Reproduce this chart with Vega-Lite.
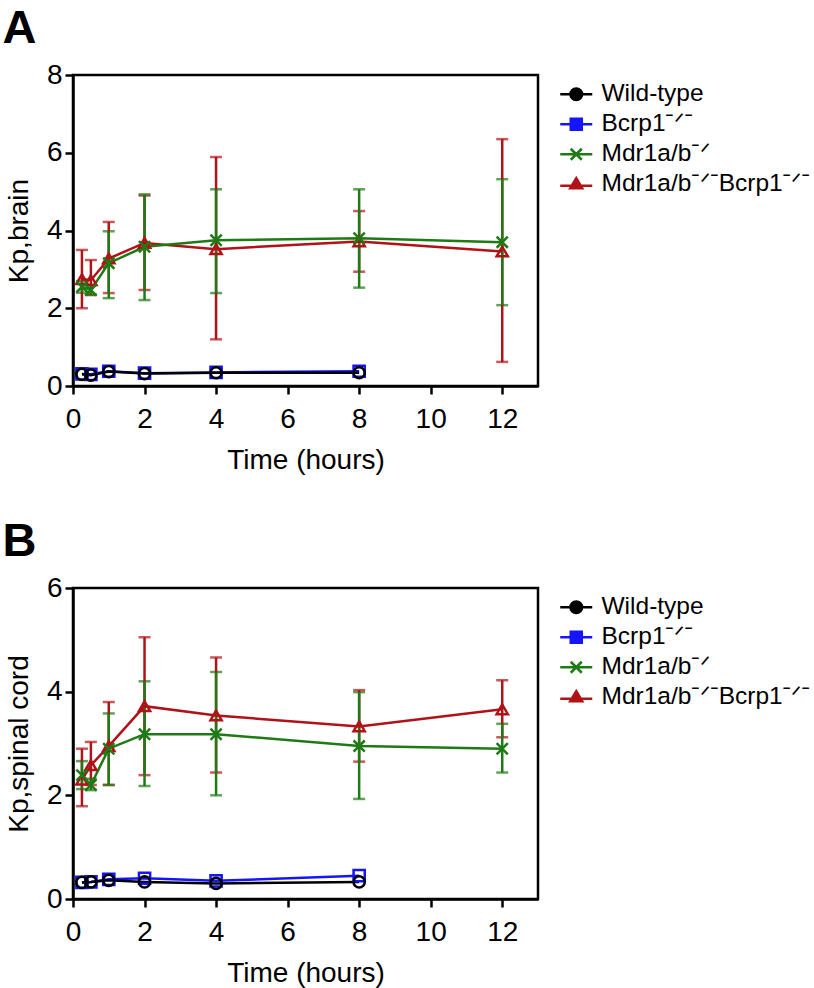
{
  "$schema": "https://vega.github.io/schema/vega-lite/v6.json",
  "background": "white",
  "padding": {"left": 1, "top": 3, "right": 0, "bottom": 5},
  "datasets": {
    "brain": [
      {"g": "Bcrp1ˉᐟˉ", "t": 0.25, "m": 0.31},
      {"g": "Bcrp1ˉᐟˉ", "t": 0.5, "m": 0.3},
      {"g": "Bcrp1ˉᐟˉ", "t": 1, "m": 0.38},
      {"g": "Bcrp1ˉᐟˉ", "t": 2, "m": 0.33},
      {"g": "Bcrp1ˉᐟˉ", "t": 4, "m": 0.35},
      {"g": "Bcrp1ˉᐟˉ", "t": 8, "m": 0.38},
      {"g": "Wild-type", "t": 0.25, "m": 0.3},
      {"g": "Wild-type", "t": 0.5, "m": 0.28},
      {"g": "Wild-type", "t": 1, "m": 0.37},
      {"g": "Wild-type", "t": 2, "m": 0.32},
      {"g": "Wild-type", "t": 4, "m": 0.34},
      {"g": "Wild-type", "t": 8, "m": 0.34},
      {"g": "Mdr1a/bˉᐟˉBcrp1ˉᐟˉ", "t": 0.25, "m": 2.75, "lo": 2.0, "hi": 3.5},
      {"g": "Mdr1a/bˉᐟˉBcrp1ˉᐟˉ", "t": 0.5, "m": 2.72, "lo": 2.34, "hi": 3.24},
      {"g": "Mdr1a/bˉᐟˉBcrp1ˉᐟˉ", "t": 1, "m": 3.28, "lo": 2.39, "hi": 4.22},
      {"g": "Mdr1a/bˉᐟˉBcrp1ˉᐟˉ", "t": 2, "m": 3.68, "lo": 2.47, "hi": 4.9},
      {"g": "Mdr1a/bˉᐟˉBcrp1ˉᐟˉ", "t": 4, "m": 3.52, "lo": 1.2, "hi": 5.89},
      {"g": "Mdr1a/bˉᐟˉBcrp1ˉᐟˉ", "t": 8, "m": 3.72, "lo": 2.94, "hi": 4.5},
      {"g": "Mdr1a/bˉᐟˉBcrp1ˉᐟˉ", "t": 12, "m": 3.46, "lo": 0.62, "hi": 6.35},
      {"g": "Mdr1a/bˉᐟ", "t": 0.25, "m": 2.55, "lo": 2.4, "hi": 2.7},
      {"g": "Mdr1a/bˉᐟ", "t": 0.5, "m": 2.47, "lo": 2.35, "hi": 2.6},
      {"g": "Mdr1a/bˉᐟ", "t": 1, "m": 3.16, "lo": 2.26, "hi": 3.98},
      {"g": "Mdr1a/bˉᐟ", "t": 2, "m": 3.58, "lo": 2.21, "hi": 4.93},
      {"g": "Mdr1a/bˉᐟ", "t": 4, "m": 3.75, "lo": 2.39, "hi": 5.06},
      {"g": "Mdr1a/bˉᐟ", "t": 8, "m": 3.8, "lo": 2.53, "hi": 5.06},
      {"g": "Mdr1a/bˉᐟ", "t": 12, "m": 3.7, "lo": 2.08, "hi": 5.32}
    ],
    "spinal": [
      {"g": "Bcrp1ˉᐟˉ", "t": 0.25, "m": 0.32},
      {"g": "Bcrp1ˉᐟˉ", "t": 0.5, "m": 0.33},
      {"g": "Bcrp1ˉᐟˉ", "t": 1, "m": 0.38},
      {"g": "Bcrp1ˉᐟˉ", "t": 2, "m": 0.4},
      {"g": "Bcrp1ˉᐟˉ", "t": 4, "m": 0.35},
      {"g": "Bcrp1ˉᐟˉ", "t": 8, "m": 0.45},
      {"g": "Wild-type", "t": 0.25, "m": 0.32},
      {"g": "Wild-type", "t": 0.5, "m": 0.33},
      {"g": "Wild-type", "t": 1, "m": 0.36},
      {"g": "Wild-type", "t": 2, "m": 0.33},
      {"g": "Wild-type", "t": 4, "m": 0.3},
      {"g": "Wild-type", "t": 8, "m": 0.33},
      {"g": "Mdr1a/bˉᐟˉBcrp1ˉᐟˉ", "t": 0.25, "m": 2.3, "lo": 1.79, "hi": 2.9},
      {"g": "Mdr1a/bˉᐟˉBcrp1ˉᐟˉ", "t": 0.5, "m": 2.58, "lo": 2.2, "hi": 3.03},
      {"g": "Mdr1a/bˉᐟˉBcrp1ˉᐟˉ", "t": 1, "m": 2.95, "lo": 2.2, "hi": 3.8},
      {"g": "Mdr1a/bˉᐟˉBcrp1ˉᐟˉ", "t": 2, "m": 3.72, "lo": 2.39, "hi": 5.05},
      {"g": "Mdr1a/bˉᐟˉBcrp1ˉᐟˉ", "t": 4, "m": 3.54, "lo": 2.44, "hi": 4.66},
      {"g": "Mdr1a/bˉᐟˉBcrp1ˉᐟˉ", "t": 8, "m": 3.33, "lo": 2.65, "hi": 4.03},
      {"g": "Mdr1a/bˉᐟˉBcrp1ˉᐟˉ", "t": 12, "m": 3.66, "lo": 3.12, "hi": 4.22},
      {"g": "Mdr1a/bˉᐟ", "t": 0.25, "m": 2.39, "lo": 2.12, "hi": 2.66},
      {"g": "Mdr1a/bˉᐟ", "t": 0.5, "m": 2.2, "lo": 2.1, "hi": 2.32},
      {"g": "Mdr1a/bˉᐟ", "t": 1, "m": 2.9, "lo": 2.2, "hi": 3.58},
      {"g": "Mdr1a/bˉᐟ", "t": 2, "m": 3.18, "lo": 2.18, "hi": 4.2},
      {"g": "Mdr1a/bˉᐟ", "t": 4, "m": 3.18, "lo": 2.0, "hi": 4.38},
      {"g": "Mdr1a/bˉᐟ", "t": 8, "m": 2.95, "lo": 1.93, "hi": 3.99},
      {"g": "Mdr1a/bˉᐟ", "t": 12, "m": 2.9, "lo": 2.44, "hi": 3.38}
    ]
  },
  "spacing": 40,
  "resolve": {
    "scale": {"y": "independent", "color": "independent", "shape": "independent"},
    "legend": {"color": "independent", "shape": "independent"}
  },
  "vconcat": [
    {
      "title": {"text": "A"},
      "width": 465,
      "height": 311,
      "data": {"name": "brain"},
      "layer": [
        {
          "mark": {"type": "point", "filled": false, "strokeWidth": 2.5, "opacity": 0, "fillOpacity": 0},
          "encoding": {
            "x": {"field": "t", "type": "quantitative", "scale": {"domain": [0, 13], "nice": false}, "axis": {"values": [0, 2, 4, 6, 8, 10, 12], "title": "Time (hours)"}},
            "y": {"field": "m", "type": "quantitative", "scale": {"domain": [0, 8], "nice": false}, "axis": {"values": [0, 2, 4, 6, 8], "title": "Kp,brain"}},
            "color": {"field": "g", "type": "nominal", "scale": {"domain": ["Wild-type", "Bcrp1ˉᐟˉ", "Mdr1a/bˉᐟ", "Mdr1a/bˉᐟˉBcrp1ˉᐟˉ"], "range": ["#000000", "#1414ff", "#1e7a14", "#b01218"]}, "legend": {"title": null}},
            "shape": {"field": "g", "type": "nominal", "scale": {"domain": ["Wild-type", "Bcrp1ˉᐟˉ", "Mdr1a/bˉᐟ", "Mdr1a/bˉᐟˉBcrp1ˉᐟˉ"], "range": ["M-1.6,0H1.6M-0.58,0A0.58,0.58 0 1,0 0.58,0A0.58,0.58 0 1,0 -0.58,0", "M-1.6,0H1.6M-0.55,-0.55H0.55V0.55H-0.55Z", "M-1.6,0H1.6M-0.55,-0.55L0.55,0.55M-0.55,0.55L0.55,-0.55", "M-1.6,0.15H1.6M0,-0.6L0.6,0.4H-0.6Z"]}, "legend": {"title": null}}
          }
        },
        {
          "transform": [{"filter": "datum.lo != null"}],
          "mark": {"type": "errorbar", "thickness": 2.5, "ticks": {"size": 12, "thickness": 2.5}},
          "encoding": {
            "x": {"field": "t", "type": "quantitative"},
            "y": {"field": "lo", "type": "quantitative", "scale": {"domain": [0, 8], "nice": false}, "axis": {"values": [0, 2, 4, 6, 8], "title": "Kp,brain"}},
            "y2": {"field": "hi"},
            "color": {"field": "g", "type": "nominal", "legend": null}
          }
        },
        {
          "mark": {"type": "line", "strokeWidth": 2.5},
          "encoding": {
            "x": {"field": "t", "type": "quantitative"},
            "y": {"field": "m", "type": "quantitative"},
            "color": {"field": "g", "type": "nominal", "legend": null}
          }
        },
        {
          "transform": [{"filter": "datum.g === 'Bcrp1ˉᐟˉ'"}],
          "mark": {"type": "point", "shape": "square", "filled": false, "strokeWidth": 2.5, "size": 125, "opacity": 1},
          "encoding": {"x": {"field": "t", "type": "quantitative"}, "y": {"field": "m", "type": "quantitative"}, "color": {"field": "g", "type": "nominal", "legend": null}}
        },
        {
          "transform": [{"filter": "datum.g === 'Wild-type'"}],
          "mark": {"type": "point", "shape": "circle", "filled": false, "strokeWidth": 2.5, "size": 125, "opacity": 1},
          "encoding": {"x": {"field": "t", "type": "quantitative"}, "y": {"field": "m", "type": "quantitative"}, "color": {"field": "g", "type": "nominal", "legend": null}}
        },
        {
          "transform": [{"filter": "datum.g === 'Mdr1a/bˉᐟˉBcrp1ˉᐟˉ'"}],
          "mark": {"type": "point", "shape": "triangle-up", "filled": false, "strokeWidth": 2.5, "size": 125, "opacity": 1},
          "encoding": {"x": {"field": "t", "type": "quantitative"}, "y": {"field": "m", "type": "quantitative"}, "color": {"field": "g", "type": "nominal", "legend": null}}
        },
        {
          "transform": [{"filter": "datum.g === 'Mdr1a/bˉᐟ'"}],
          "mark": {"type": "point", "shape": "M-1,-1L1,1M-1,1L1,-1", "filled": false, "strokeWidth": 2.5, "size": 125, "opacity": 1},
          "encoding": {"x": {"field": "t", "type": "quantitative"}, "y": {"field": "m", "type": "quantitative"}, "color": {"field": "g", "type": "nominal", "legend": null}}
        }
      ]
    },
    {
      "title": {"text": "B"},
      "width": 465,
      "height": 311,
      "data": {"name": "spinal"},
      "layer": [
        {
          "mark": {"type": "point", "filled": false, "strokeWidth": 2.5, "opacity": 0, "fillOpacity": 0},
          "encoding": {
            "x": {"field": "t", "type": "quantitative", "scale": {"domain": [0, 13], "nice": false}, "axis": {"values": [0, 2, 4, 6, 8, 10, 12], "title": "Time (hours)"}},
            "y": {"field": "m", "type": "quantitative", "scale": {"domain": [0, 6], "nice": false}, "axis": {"values": [0, 2, 4, 6], "title": "Kp,spinal cord"}},
            "color": {"field": "g", "type": "nominal", "scale": {"domain": ["Wild-type", "Bcrp1ˉᐟˉ", "Mdr1a/bˉᐟ", "Mdr1a/bˉᐟˉBcrp1ˉᐟˉ"], "range": ["#000000", "#1414ff", "#1e7a14", "#b01218"]}, "legend": {"title": null}},
            "shape": {"field": "g", "type": "nominal", "scale": {"domain": ["Wild-type", "Bcrp1ˉᐟˉ", "Mdr1a/bˉᐟ", "Mdr1a/bˉᐟˉBcrp1ˉᐟˉ"], "range": ["M-1.6,0H1.6M-0.58,0A0.58,0.58 0 1,0 0.58,0A0.58,0.58 0 1,0 -0.58,0", "M-1.6,0H1.6M-0.55,-0.55H0.55V0.55H-0.55Z", "M-1.6,0H1.6M-0.55,-0.55L0.55,0.55M-0.55,0.55L0.55,-0.55", "M-1.6,0.15H1.6M0,-0.6L0.6,0.4H-0.6Z"]}, "legend": {"title": null}}
          }
        },
        {
          "transform": [{"filter": "datum.lo != null"}],
          "mark": {"type": "errorbar", "thickness": 2.5, "ticks": {"size": 12, "thickness": 2.5}},
          "encoding": {
            "x": {"field": "t", "type": "quantitative"},
            "y": {"field": "lo", "type": "quantitative", "scale": {"domain": [0, 6], "nice": false}, "axis": {"values": [0, 2, 4, 6], "title": "Kp,spinal cord"}},
            "y2": {"field": "hi"},
            "color": {"field": "g", "type": "nominal", "legend": null}
          }
        },
        {
          "mark": {"type": "line", "strokeWidth": 2.5},
          "encoding": {
            "x": {"field": "t", "type": "quantitative"},
            "y": {"field": "m", "type": "quantitative"},
            "color": {"field": "g", "type": "nominal", "legend": null}
          }
        },
        {
          "transform": [{"filter": "datum.g === 'Bcrp1ˉᐟˉ'"}],
          "mark": {"type": "point", "shape": "square", "filled": false, "strokeWidth": 2.5, "size": 125, "opacity": 1},
          "encoding": {"x": {"field": "t", "type": "quantitative"}, "y": {"field": "m", "type": "quantitative"}, "color": {"field": "g", "type": "nominal", "legend": null}}
        },
        {
          "transform": [{"filter": "datum.g === 'Wild-type'"}],
          "mark": {"type": "point", "shape": "circle", "filled": false, "strokeWidth": 2.5, "size": 125, "opacity": 1},
          "encoding": {"x": {"field": "t", "type": "quantitative"}, "y": {"field": "m", "type": "quantitative"}, "color": {"field": "g", "type": "nominal", "legend": null}}
        },
        {
          "transform": [{"filter": "datum.g === 'Mdr1a/bˉᐟˉBcrp1ˉᐟˉ'"}],
          "mark": {"type": "point", "shape": "triangle-up", "filled": false, "strokeWidth": 2.5, "size": 125, "opacity": 1},
          "encoding": {"x": {"field": "t", "type": "quantitative"}, "y": {"field": "m", "type": "quantitative"}, "color": {"field": "g", "type": "nominal", "legend": null}}
        },
        {
          "transform": [{"filter": "datum.g === 'Mdr1a/bˉᐟ'"}],
          "mark": {"type": "point", "shape": "M-1,-1L1,1M-1,1L1,-1", "filled": false, "strokeWidth": 2.5, "size": 125, "opacity": 1},
          "encoding": {"x": {"field": "t", "type": "quantitative"}, "y": {"field": "m", "type": "quantitative"}, "color": {"field": "g", "type": "nominal", "legend": null}}
        }
      ]
    }
  ],
  "config": {
    "font": "Liberation Sans",
    "view": {"stroke": "black", "strokeWidth": 2.5},
    "title": {"fontSize": 47, "fontWeight": "bold", "anchor": "start", "frame": "bounds", "color": "black", "offset": 8, "dx": -3},
    "axis": {"domainColor": "black", "domainWidth": 2.5, "tickColor": "black", "tickWidth": 2.5, "tickSize": 8, "labelFontSize": 28, "labelColor": "black", "titleFontSize": 28, "titleFontWeight": "normal", "titleColor": "black", "grid": false, "labelFlush": false, "labelOverlap": false},
    "axisX": {"labelPadding": 11, "titlePadding": 13},
    "axisY": {"labelPadding": 3, "titlePadding": 13},
    "legend": {
      "orient": "right",
      "offset": 19,
      "padding": 7,
      "labelFontSize": 24.5,
      "labelColor": "black",
      "labelOffset": 13,
      "symbolSize": 400,
      "symbolStrokeWidth": 2.5,
      "symbolOpacity": 1,
      "rowPadding": 5,
      "labelLimit": 300,
      "symbolFillColor": "transparent"
    }
  }
}
